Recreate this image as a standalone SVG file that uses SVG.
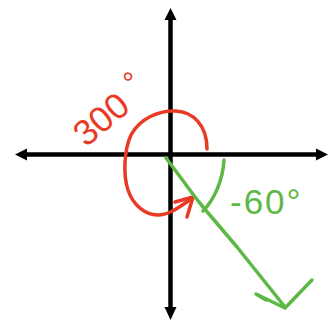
<svg xmlns="http://www.w3.org/2000/svg" width="329" height="321" viewBox="0 0 329 321">
<style>
.ax{stroke:#000;stroke-width:4.5;fill:none}
.ah{fill:#000}
.red{stroke:#e93a26;stroke-width:3.5;fill:none;stroke-linecap:round;stroke-linejoin:round}
.grn{stroke:#5db846;stroke-width:3.5;fill:none;stroke-linecap:round;stroke-linejoin:round}
.lbl{font-family:"Liberation Sans",Arial,sans-serif}
</style>
<rect width="329" height="321" fill="#fff"/>
<g id="axes">
<line class="ax" x1="24" y1="154.5" x2="318" y2="154.5"/>
<line class="ax" x1="170.5" y1="18" x2="170.5" y2="310"/>
<polygon class="ah" points="15,154.5 27,148.5 27,160.5"/>
<polygon class="ah" points="328,154.5 316,148.5 316,160.5"/>
<polygon class="ah" points="170.5,8 164.5,20 176.5,20"/>
<polygon class="ah" points="170.5,320 164.5,307 176.5,307"/>
</g>
<g id="angle-300">
<path class="red" d="M207,149 C207,125 193,112 176,111 C160,110 140,118 131,135 C124,150 123,175 128,190 C133,205 145,215 158,215 C170,215 180,206 193,198"/>
<path class="red" d="M175,202 L193,197 L187,217"/>
<text class="lbl" x="86" y="148" font-size="36" fill="#e93a26" transform="rotate(-40 86 148)">300<tspan dx="12" dy="-11" font-size="30">°</tspan></text>
</g>
<g id="angle-neg60">
<path class="grn" d="M166,158 C180,176 192,194 203,207 C215,221 226,234 237,247 C253,267 270,288 285,307"/>
<path class="grn" d="M258,295 L285,308 L312,280"/>
<path class="grn" stroke-width="6" d="M256,294 L266,300"/>
<path class="grn" d="M224,160 C223,180 214,200 203,211"/>
<text class="lbl" x="230" y="214" font-size="35" fill="#5db846" letter-spacing="2">-60°</text>
</g>
</svg>
